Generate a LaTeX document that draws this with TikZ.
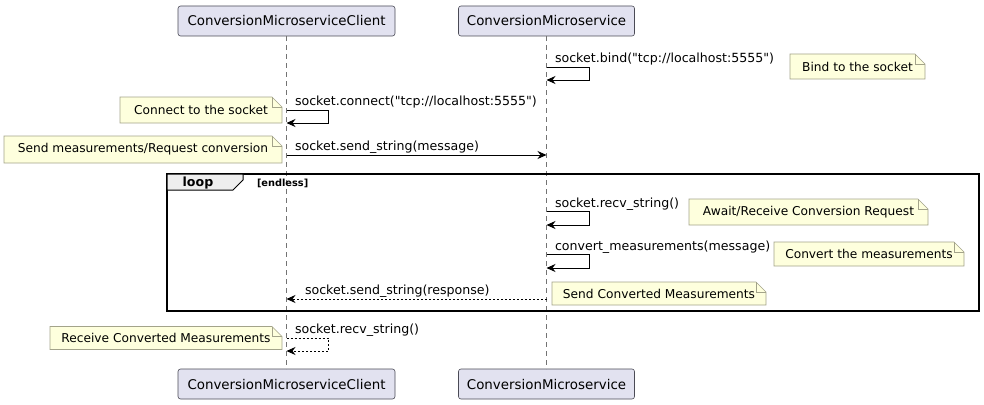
\documentclass[tikz,border=0pt]{standalone}
\usepackage{fontspec}
\setmainfont{DejaVu Sans}[Ligatures=TeXOff]
\usepackage{tikz}
\usetikzlibrary{positioning}
\usetikzlibrary{arrows.meta,backgrounds,calc}
\definecolor{partfill}{HTML}{E2E2F0}
\definecolor{partdraw}{HTML}{4A4A55}
\definecolor{notefill}{HTML}{FEFFDD}
\definecolor{notedraw}{HTML}{A3A38A}
\definecolor{loopfill}{HTML}{EEEEEE}
\tikzset{
    %Define standard arrow tip
    >={Stealth[length=9pt,width=8pt,inset=3pt]},
    % Define message styles
    msg/.style={
           ->,
           line width=0.8pt,},
    reply/.style={
           ->,
           line width=0.8pt,
           dash pattern=on 2pt off 2pt,},
    life/.style={
           draw=black!55,
           line width=0.5pt,
           dash pattern=on 5pt off 4pt,}
}
\newcommand{\partfont}{\fontsize{13.4}{16}\selectfont}
\newcommand{\msgfont}{\fontsize{12.6}{15}\selectfont}
\newcommand{\notefont}{\fontsize{12.2}{15}\selectfont}
\newcommand{\foldnote}[1]{%
  \begin{pgfonlayer}{background}
  \draw[draw=notedraw, fill=notefill, line width=0.6pt] (#1.south west) -- (#1.north west) -- ([xshift=-10pt]#1.north east) -- ([yshift=-10pt]#1.north east) -- (#1.south east) -- cycle;
  \end{pgfonlayer}
  \draw[draw=notedraw, line width=0.6pt] ([xshift=-10pt]#1.north east) |- ([yshift=-10pt]#1.north east);
}

\begin{document}
\begin{tikzpicture}[x=1pt, y=-1pt, outer sep=0pt]
\tikzstyle{part}=[draw=partdraw, line width=0.6pt, fill=partfill, rounded corners=2.5pt, minimum height=30pt, inner sep=0pt, font=\partfont]
\tikzstyle{note}=[inner sep=0pt, minimum height=25pt, font=\notefont]
\tikzstyle{lbl}=[anchor=base west, inner sep=0pt, font=\msgfont]

\useasboundingbox (0,0) rectangle (984,404);

% participants
\node[part, minimum width=217pt] (cliT) at (286.5,21) {ConversionMicroserviceClient};
\node[part, minimum width=176pt] (svcT) at (546.5,21) {ConversionMicroservice};
\node[part, minimum width=217pt] (cliB) at (286.5,384) {ConversionMicroserviceClient};
\node[part, minimum width=176pt] (svcB) at (546.5,384) {ConversionMicroservice};

\draw[life] (cliT.south) -- (cliB.north);
\draw[life] (svcT.south) -- (svcB.north);

% bind
\node[lbl] (tBind) at (555,63) {socket.bind("tcp://localhost:5555")};
\coordinate (bindA) at (svcT |- 0,67);
\coordinate (bindB) at (svcT |- 0,80);
\draw[msg] (bindA) -- ++(43,0) |- (bindB);
\node[note, minimum width=135pt] (nBind) at (857.5,66.5) {Bind to the socket};
\foldnote{nBind}

% connect
\node[lbl] (tConn) at (295,105) {socket.connect("tcp://localhost:5555")};
\coordinate (connA) at (cliT |- 0,110);
\coordinate (connB) at (cliT |- 0,123);
\draw[msg] (connA) -- ++(42,0) |- (connB);
\node[note, minimum width=162pt, minimum height=26pt] (nConn) at (201,110) {Connect to the socket};
\foldnote{nConn}

% send request
\node[lbl] (tSend) at (295,150) {socket.send\_string(message)};
\coordinate (sendA) at (cliT |- 0,155);
\coordinate (sendB) at (svcT |- 0,155);
\draw[msg] (sendA) -- (sendB);
\node[note, minimum width=278pt, minimum height=27pt] (nSend) at (143,149.5) {Send measurements/Request conversion};
\foldnote{nSend}

% loop frame
\draw[line width=1.5pt] (167,174) rectangle (979,311);
\draw[fill=loopfill, line width=1pt] (167,174) -- (243,174) -- (243,180) -- (233,190) -- (167,190) -- cycle;
\node[anchor=base, inner sep=0pt, font=\msgfont\bfseries] (tLoop) at (198,186) {loop};
\node[anchor=base west, inner sep=0pt, font=\fontsize{9.8}{11}\selectfont\bfseries] (tEndless) at (257,186) {[endless]};

% recv
\node[lbl] (tRecv) at (555,207) {socket.recv\_string()};
\coordinate (recvA) at (svcT |- 0,211);
\coordinate (recvB) at (svcT |- 0,225);
\draw[msg] (recvA) -- ++(43,0) |- (recvB);
\node[note, minimum width=239pt, minimum height=26pt] (nRecv) at (808.5,212) {Await/Receive Conversion Request};
\foldnote{nRecv}

% convert
\node[lbl] (tConv) at (555,250) {convert\_measurements(message)};
\coordinate (convA) at (svcT |- 0,254);
\coordinate (convB) at (svcT |- 0,268);
\draw[msg] (convA) -- ++(43,0) |- (convB);
\node[note, minimum width=190pt, minimum height=24pt] (nConv) at (869,254) {Convert the measurements};
\foldnote{nConv}

% response
\node[lbl] (tResp) at (305,294) {socket.send\_string(response)};
\coordinate (respA) at (svcT |- 0,299);
\coordinate (respB) at (cliT |- 0,299);
\draw[reply] (respA) -- (respB);
\node[note, minimum width=214pt, minimum height=23pt] (nResp) at (659,293.5) {Send Converted Measurements};
\foldnote{nResp}

% receive on client
\node[lbl] (tCli) at (295,333) {socket.recv\_string()};
\coordinate (cliA) at (cliT |- 0,338);
\coordinate (cliC) at (cliT |- 0,351);
\draw[reply] (cliA) -- ++(42,0) |- (cliC);
\node[note, minimum width=232pt, minimum height=23pt] (nCli) at (166,338) {Receive Converted Measurements};
\foldnote{nCli}

\end{tikzpicture}
\end{document}
